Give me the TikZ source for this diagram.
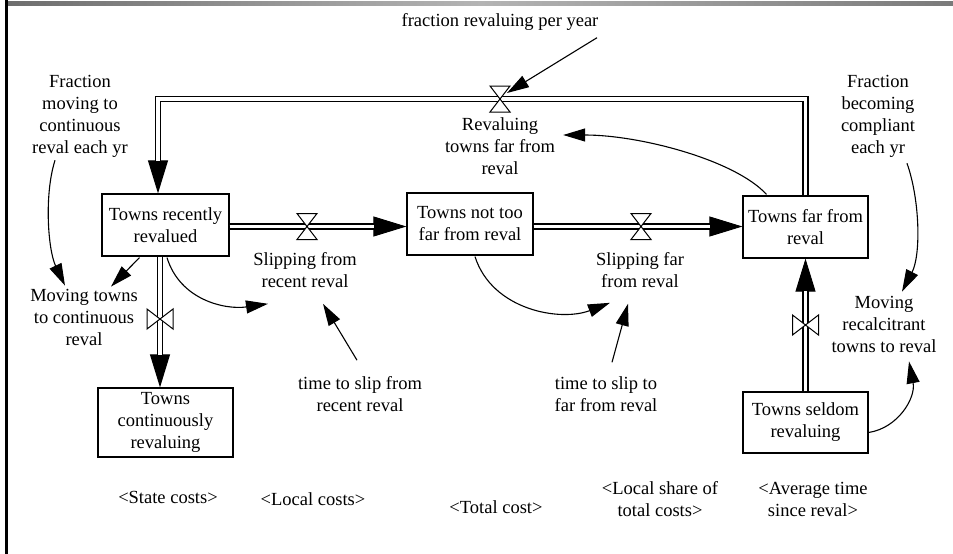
\documentclass[tikz,border=0pt]{standalone}
\usepackage{fontspec}
\setmainfont{Liberation Serif}
\usetikzlibrary{arrows.meta,calc}
\definecolor{barend}{HTML}{6E6E6E}
\definecolor{barmid}{HTML}{B4B4B4}
\definecolor{barright}{HTML}{7A7A7A}
\begin{document}
\begin{tikzpicture}[x=1pt,y=-1pt,
  every node/.style={font=\fontsize{18.5}{22}\selectfont, align=center, inner sep=0pt},
  stock/.style={draw, line width=1.2pt, fill=white},
  pipe/.style={double distance=3.8pt, line width=1.2pt, line join=miter, shorten >=32pt},
  pipetip/.style={line width=1pt, -{Triangle[length=33pt,width=20pt]}},
  info/.style={line width=1.1pt, -{Triangle[length=22pt,width=13pt]}},
  valve/.pic={\draw[fill=white,line width=1pt] (-10,-13) -- (10,-13) -- (-10,13) -- (10,13) -- cycle;}
]
\useasboundingbox (0,0) rectangle (953,554);

% frame: shaded top bar and black left rule
\shade[left color=barend, right color=barright, middle color=barmid] (8,1) rectangle (953,5);
\fill (5,0) rectangle (8,554);

% stocks
\node[stock, minimum width=127pt, minimum height=62pt] (r1) at (165.5,225) {Towns recently\\revalued};
\node[stock, minimum width=126pt, minimum height=62pt] (r2) at (470,224) {Towns not too\\far from reval};
\node[stock, minimum width=125pt, minimum height=62pt] (r3) at (805.5,227) {Towns far from\\reval};
\node[stock, minimum width=135pt, minimum height=69pt] (r4) at (165.5,422.5) {Towns\\continuously\\revaluing};
\node[stock, minimum width=125pt, minimum height=61pt] (r5) at (805.5,422.5) {Towns seldom\\revaluing};

% valve positions
\coordinate (v0) at (500,99);
\coordinate (v1) at (307,226.5);
\coordinate (v2) at (641,226.5);
\coordinate (v3) at (160,319);
\coordinate (v4) at (805.5,325);

% flows
\draw[pipetip] (r3.north) |- (v0) -| ($(r1.north)+(-7.5,0)$);
\draw[pipe] (r3.north) |- (v0) -| ($(r1.north)+(-7.5,0)$);
\draw[pipetip] (r1.east |- v1) -- (r2.west |- v1);
\draw[pipe] (r1.east |- v1) -- (r2.west |- v1);
\draw[pipetip] (r2.east |- v2) -- (r3.west |- v2);
\draw[pipe] (r2.east |- v2) -- (r3.west |- v2);
\draw[pipetip] (r1.south -| v3) -- (r4.north -| v3);
\draw[pipe] (r1.south -| v3) -- (r4.north -| v3);
\draw[pipetip] (r5.north -| v4) -- (r3.south -| v4);
\draw[pipe] (r5.north -| v4) -- (r3.south -| v4);

\pic at (v0) {valve};
\pic at (v1) {valve};
\pic at (v2) {valve};
\pic[rotate=90] at (v3) {valve};
\pic[rotate=90] at (v4) {valve};

% flow names
\node (l0) at (500,146) {Revaluing\\towns far from\\reval};
\node (l1) at (305,270) {Slipping from\\recent reval};
\node (l2) at (640,270) {Slipping far\\from reval};
\node (l3) at (84,317) {Moving towns\\to continuous\\reval};
\node (l4) at (884,324) {Moving\\recalcitrant\\towns to reval};

% auxiliaries
\node (fry) at (500,22) {fraction revaluing per year};
\node (fmc) at (80,116) {Fraction\\moving to\\continuous\\reval each yr};
\node (fbc) at (878,116) {Fraction\\becoming\\compliant\\each yr};
\node (ts1) at (360,394) {time to slip from\\recent reval};
\node (ts2) at (606,394) {time to slip to\\far from reval};

% shadow variables
\node (sc) at (168,497) {<State costs>};
\node (lc) at (313,499) {<Local costs>};
\node (tc) at (496,507) {<Total cost>};
\node (ls) at (660,499) {<Local share of\\total costs>};
\node (at) at (813,499) {<Average time\\since reval>};

% information links
\draw[info] ($(fry.south)+(97,7)$) -- ($(v0)+(7,-6)$);
\draw[info] ($(fmc.south)+(-25,3)$) .. controls (44,195) and (48,250) .. ($(l3.north)+(-19,-3)$);
\draw[info] ($(r1.south)+(-26,1)$) -- ($(l3.north)+(27,-2)$);
\draw[info] ($(r1.south)+(1.5,1)$) .. controls (180,300) and (225,310) .. ($(l1.south)+(-37,16)$);
\draw[info] ($(ts1.north)+(-3,-16)$) -- ($(l1.south)+(18,16)$);
\draw[info] ($(r2.south)+(5,1)$) .. controls (492,310) and (560,322) .. ($(l2.south)+(-30,15)$);
\draw[info] ($(ts2.north)+(6,-14)$) -- ($(l2.south)+(-12,16)$);
\draw[info] ($(r3.north)+(-39,-1)$) .. controls (735,160) and (640,135) .. ($(l0.east)+(8,-11)$);
\draw[info] ($(fbc.south)+(29,6)$) .. controls (920,200) and (921,255) .. ($(l4.north)+(18,-4)$);
\draw[info] ($(r5.east)+(0,10)$) .. controls (898,428) and (916,398) .. ($(l4.south)+(25,9)$);
\end{tikzpicture}
\end{document}
